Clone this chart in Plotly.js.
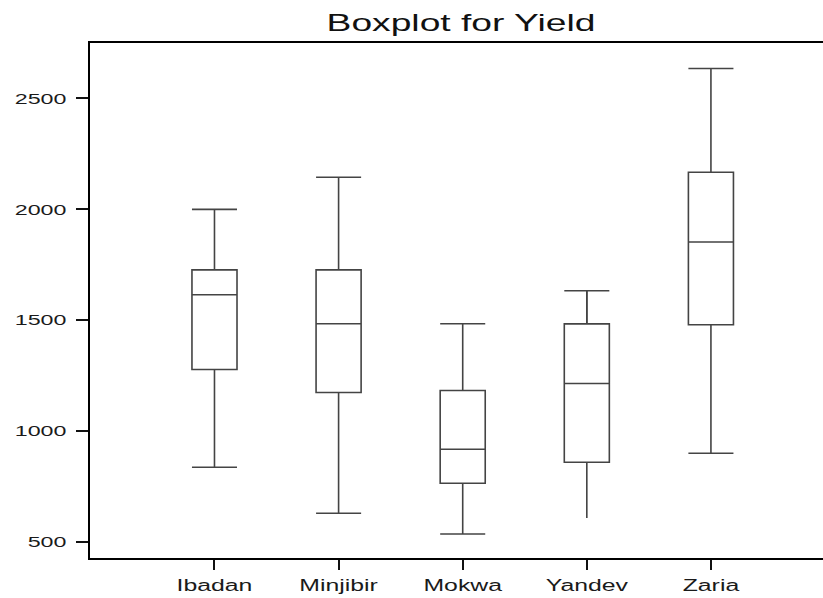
<!DOCTYPE html>
<html>
<head>
<meta charset="utf-8">
<script src="https://cdn.plot.ly/plotly-3.0.1.min.js"></script>
<style>
  html, body { margin: 0; padding: 0; overflow: hidden; background: #fff; }
  #plot { width: 823px; height: 598px; }
</style>
</head>
<body>
<div id="plot"></div>
<script>
// Data (Yield)
const categories = ['Ibadan', 'Minjibir', 'Mokwa', 'Yandev', 'Zaria'];
const lowerWhisker = [837, 630, 536, 608, 900];
const q1Values = [1278, 1174, 765, 860, 1480];
const medianValues = [1615, 1484, 918, 1215, 1853];
const q3Values = [1727, 1727, 1183, 1484, 2167];
const upperWhisker = [2000, 2145, 1484, 1633, 2635];
const yTickValues = [500, 1000, 1500, 2000, 2500];

const lineStyle = { color: '#444444', width: 1.6 };
const boxWidth = 0.363;
const textStretch = 1.55; // reference text is horizontally stretched
const pick = (arr, idx) => idx.map(i => arr[i]);

// Boxes with capped whiskers (all but Yandev)
const capped = [0, 1, 2, 4];
const yan = [3];

const traces = [
  {
    type: 'box', x: pick(categories, capped),
    q1: pick(q1Values, capped), median: pick(medianValues, capped), q3: pick(q3Values, capped),
    lowerfence: pick(lowerWhisker, capped), upperfence: pick(upperWhisker, capped),
    width: boxWidth, whiskerwidth: 1, boxpoints: false,
    fillcolor: 'rgba(0,0,0,0)', line: lineStyle, hoverinfo: 'skip', showlegend: false
  },
  // Yandev: lower whisker drawn without a cap
  {
    type: 'box', x: pick(categories, yan),
    q1: pick(q1Values, yan), median: pick(medianValues, yan), q3: pick(q3Values, yan),
    lowerfence: pick(lowerWhisker, yan), upperfence: pick(upperWhisker, yan),
    width: boxWidth, whiskerwidth: 0, boxpoints: false,
    fillcolor: 'rgba(0,0,0,0)', line: lineStyle, hoverinfo: 'skip', showlegend: false
  },
  // Yandev upper cap
  {
    type: 'box', x: pick(categories, yan),
    q1: pick(q3Values, yan), median: pick(q3Values, yan), q3: pick(q3Values, yan),
    lowerfence: pick(q3Values, yan), upperfence: pick(upperWhisker, yan),
    width: boxWidth, whiskerwidth: 1, boxpoints: false,
    fillcolor: 'rgba(0,0,0,0)', line: lineStyle, hoverinfo: 'skip', showlegend: false
  }
];

const fontFamily = '"Liberation Sans", Arial, Helvetica, sans-serif';

const layout = {
  width: 823, height: 598,
  margin: { l: 90, r: 0, t: 43, b: 40, pad: 0 },
  paper_bgcolor: '#ffffff', plot_bgcolor: '#ffffff',
  boxmode: 'overlay',
  title: {
    text: 'Boxplot for Yield',
    font: { family: fontFamily, size: 24, color: '#111111' },
    x: 461 / 823, xanchor: 'center', xref: 'container',
    y: 0.963, yanchor: 'middle', yref: 'container'
  },
  xaxis: {
    type: 'category', categoryorder: 'array', categoryarray: categories,
    range: [-1.003, 4.903], showgrid: false, zeroline: false,
    showline: true, linecolor: '#000000', linewidth: 2, mirror: true,
    ticks: 'outside', ticklen: 10, tickwidth: 2, tickcolor: '#111111',
    ticklabelstandoff: 2,
    tickfont: { family: fontFamily, size: 16, color: '#1a1a1a' }
  },
  yaxis: {
    range: [428, 2750], tickmode: 'array', tickvals: yTickValues,
    ticktext: yTickValues.map(String),
    showgrid: false, zeroline: false,
    showline: true, linecolor: '#000000', linewidth: 2.5, mirror: false,
    ticks: 'outside', ticklen: 12, tickwidth: 2, tickcolor: '#111111',
    ticklabelstandoff: 6,
    tickfont: { family: fontFamily, size: 15, color: '#1a1a1a' }
  }
};

Plotly.newPlot('plot', traces, layout, { staticPlot: true, displayModeBar: false }).then(() => {
  // Widen the text glyphs horizontally, as in the reference picture
  document.querySelectorAll('#plot svg text').forEach(t => {
    const w = t.getComputedTextLength();
    if (w > 0) {
      t.setAttribute('textLength', (w * textStretch).toFixed(2));
      t.setAttribute('lengthAdjust', 'spacingAndGlyphs');
    }
  });
});
</script>
</body>
</html>
